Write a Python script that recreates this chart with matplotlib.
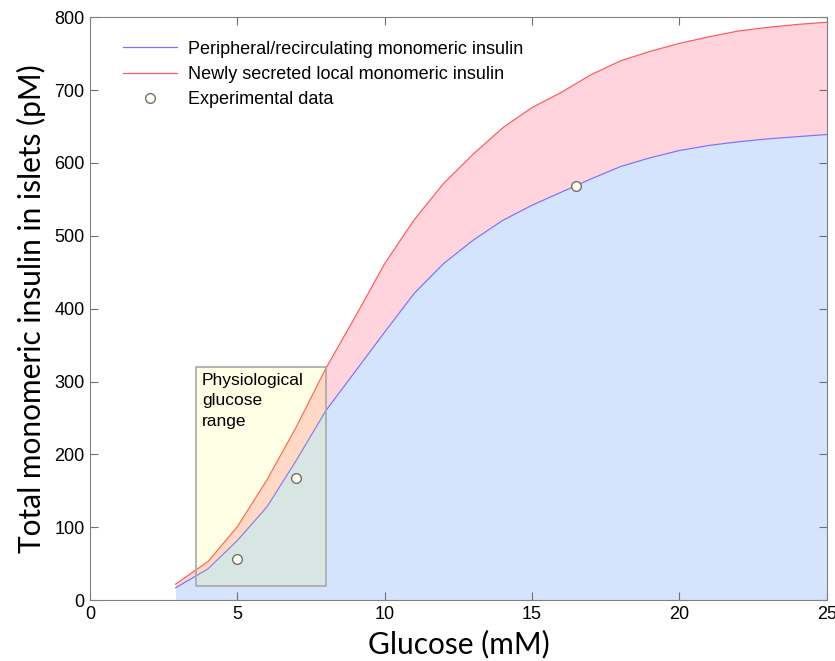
import matplotlib
matplotlib.use("Agg")
import matplotlib.pyplot as plt
from matplotlib.patches import Rectangle

# values
glucose = [2.9, 4, 5, 6, 7, 8, 9, 10, 11, 12, 13, 14, 15, 16, 17, 18, 19, 20,
           21, 22, 23, 24, 25]
peripheral = [17, 43, 82, 128, 192, 260, 314, 368, 421, 462, 494, 521, 542,
              560, 578, 595, 607, 617, 624, 629, 633, 636, 639]
total_local = [22, 53, 101, 165, 238, 318, 389, 462, 522, 572, 612, 648, 676,
               697, 721, 740, 753, 764, 773, 781, 786, 790, 793]

exp_glucose = [5, 7, 16.5]
exp_insulin = [57, 167, 568]

physio_range = (3.6, 8.0)
physio_insulin = (20, 320)

plt.rcParams["font.family"] = ["Liberation Sans", "DejaVu Sans"]

fig = plt.figure(figsize=(8.35, 6.61), dpi=100)
ax = fig.add_axes([0.108, 0.092, 0.882, 0.882])

ax.fill_between(glucose, 0, peripheral, color="#d4e4fc", lw=0, zorder=1)
ax.fill_between(glucose, peripheral, total_local, color="#ffd4dc", lw=0, zorder=1)
ax.plot(glucose, peripheral, color="#7878ff", lw=0.9, zorder=2,
        label="Peripheral/recirculating monomeric insulin")
ax.plot(glucose, total_local, color="#ff5a5a", lw=0.9, zorder=2,
        label="Newly secreted local monomeric insulin")

# yellow box, blended on top so it tints the fills underneath
box = Rectangle((physio_range[0], physio_insulin[0]),
                physio_range[1] - physio_range[0],
                physio_insulin[1] - physio_insulin[0],
                facecolor=(1, 1, 0, 0.098), edgecolor="#a8a8a8", lw=1.2, zorder=3)
ax.add_patch(box)
ax.text(physio_range[0] + 0.2, physio_insulin[1] - 8,
        "Physiological\nglucose\nrange", fontsize=12.5, va="top", ha="left",
        linespacing=1.45, zorder=4)

ax.plot(exp_glucose, exp_insulin, "o", ms=7, mfc="#fffff2", mec="#707070",
        mew=1.0, zorder=5, label="Experimental data")

ax.set_xlim(0, 25)
ax.set_ylim(0, 800)
ax.set_xticks([0, 5, 10, 15, 20, 25])
ax.set_yticks(range(0, 801, 100))
ax.tick_params(direction="in", top=True, right=True, length=6,
               color="#707070", labelsize=13, pad=4)
for s in ax.spines.values():
    s.set_color("#808080")

label_font = ["Lato", "DejaVu Sans"]
ax.set_xlabel("Glucose (mM)", fontsize=21.5, family=label_font, labelpad=5)
ax.set_ylabel("Total monomeric insulin in islets (pM)", fontsize=21.5,
              family=label_font, labelpad=6)

ax.legend(loc="upper left", frameon=False, fontsize=13, handlelength=3.0,
          handletextpad=0.6, labelspacing=0.45,
          bbox_to_anchor=(0.035, 0.972), borderaxespad=0)

fig.savefig("out.png", dpi=100)
